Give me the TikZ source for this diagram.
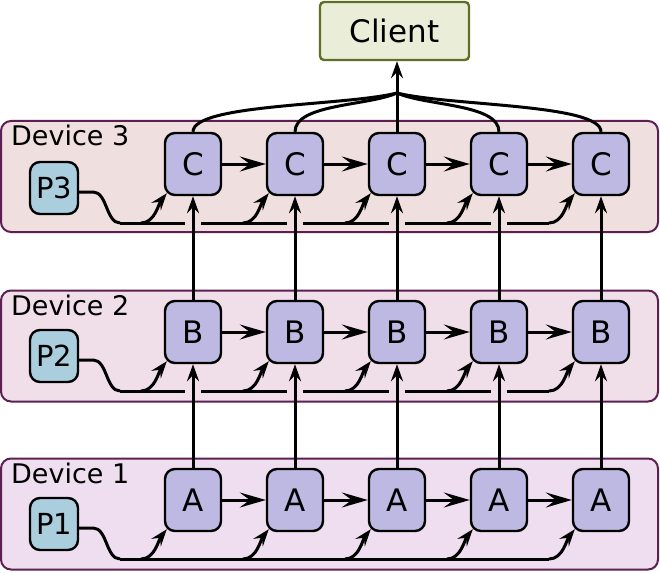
\documentclass[tikz,border=0pt]{standalone}
\usepackage{fontspec}
\setmainfont{DejaVu Sans}
\usetikzlibrary{arrows.meta,calc,positioning}
\definecolor{clientfill}{HTML}{EAEED8}
\definecolor{clientdraw}{HTML}{5F6F26}
\definecolor{stagefill}{HTML}{BDB9E2}
\definecolor{procfill}{HTML}{ABCEDF}
\definecolor{devdraw}{HTML}{5C1F52}
\definecolor{devthree}{HTML}{F0DFDF}
\definecolor{devtwo}{HTML}{F0DEE8}
\definecolor{devone}{HTML}{EEDEEF}
\tikzset{
  stage/.style={draw,fill=stagefill,line width=2.4pt,rounded corners=10pt,
    minimum width=56pt,minimum height=62pt,inner sep=0pt,font=\fontsize{31}{32}\selectfont},
  proc/.style={draw,fill=procfill,line width=2.4pt,rounded corners=10pt,
    minimum width=48pt,minimum height=52pt,inner sep=0pt,font=\fontsize{29}{30}\selectfont},
  devframe/.style={draw=devdraw,line width=2pt,rounded corners=10pt,
    minimum width=657pt,minimum height=111pt,inner sep=0pt},
  devlabel/.style={anchor=base west,inner sep=0pt,font=\fontsize{27}{28}\selectfont},
  client/.style={draw=clientdraw,fill=clientfill,line width=2.4pt,rounded corners=4pt,
    minimum width=149pt,minimum height=58pt,font=\fontsize{31}{32}\selectfont},
  wire/.style={line width=3pt},
  bigtip/.style={-{Stealth[length=26pt,width=15pt,inset=10pt]}},
  smalltip/.style={-{Stealth[length=17pt,width=12pt,inset=6pt]}},
}

\begin{document}
\begin{tikzpicture}[x=1pt,y=-1pt]
  \useasboundingbox (0,0) rectangle (660,572);
  % devices
  \node[devframe,fill=devthree] (dev3) at (329.5,176.5) {};
  \node[devframe,fill=devtwo]   (dev2) at (329.5,346) {};
  \node[devframe,fill=devone]   (dev1) at (329.5,514) {};
  \foreach \r in {1,2,3}
    \node[devlabel] (lab\r) at ($(dev\r.north west)+(11,26)$) {Device \r};

  \node[client] (client) at (394.5,31) {Client};

  % stages and processes
  \foreach \r/\l/\y in {3/C/164,2/B/332,1/A/500} {
    \node[proc] (P\r) at (54,\y+24) {P\r};
    \foreach \c in {1,...,5}
      \node[stage] (\l\c) at ({193+102*(\c-1)},\y) {\l};
    \coordinate (bus\r) at (120,\y+59);
    \draw[wire] ($(P\r.east)+(0,4)$) -- ++(14,0) .. controls +(14,0) and +(-14,0) .. (bus\r);
    \foreach \c in {1,...,5}
      \draw[wire,smalltip] ({141+102*(\c-1)},\y+59) .. controls +(14,0) and +(-8,10)
        .. ($(\l\c.south west)+(3,-3)$);
  }

  % bus lines
  \draw[wire] (bus1) -- (549,559);
  \foreach \r/\y in {2/391,3/223} {
    \draw[wire] (bus\r) -- (185,\y);
    \foreach \c in {1,2,3}
      \draw[wire] ({201+102*(\c-1)},\y) -- ({287+102*(\c-1)},\y);
    \draw[wire] (507,\y) -- (549,\y);
  }

  % pipeline arrows
  \foreach \l in {A,B,C}
    \foreach \c [count=\d from 2] in {1,...,4}
      \draw[wire,bigtip] (\l\c) -- (\l\d);
  \foreach \c in {1,...,5} {
    \draw[wire,smalltip] (A\c) -- (B\c);
    \draw[wire,smalltip] (B\c) -- (C\c);
  }

  % results to client
  \coordinate (hub) at (397,93);
  \draw[wire,smalltip] (C3.north) -- (C3.north |- client.south);
  \foreach \c/\k in {1/345,2/368,4/426,5/449}
    \draw[wire] (C\c.north) .. controls +(0,-28) and (\k,106) .. (hub);
\end{tikzpicture}
\end{document}
